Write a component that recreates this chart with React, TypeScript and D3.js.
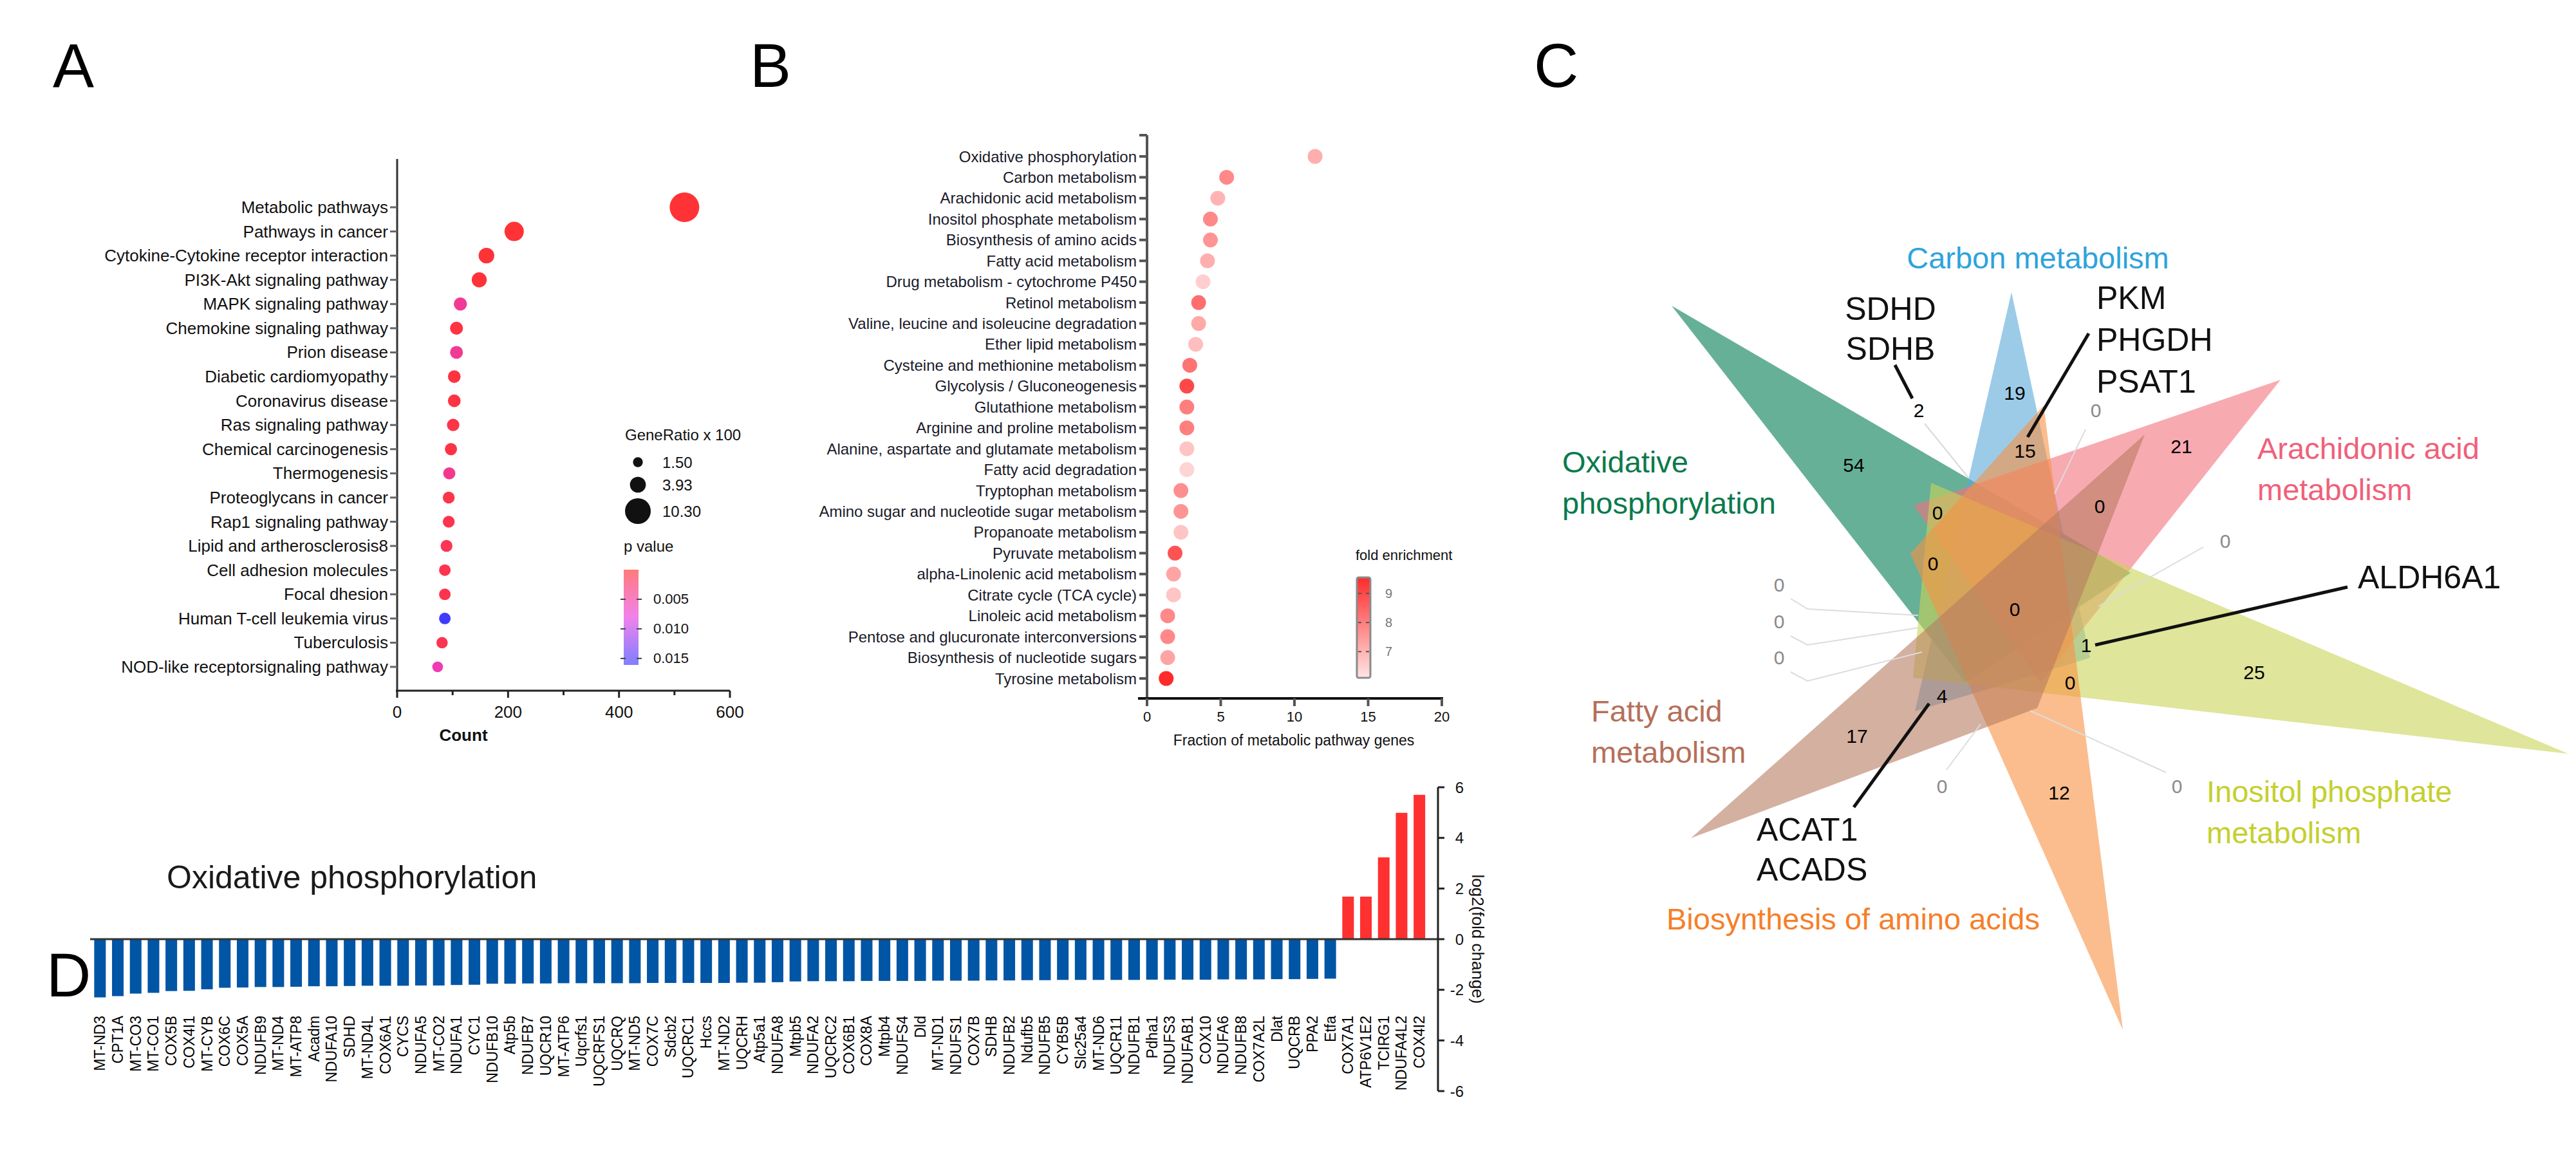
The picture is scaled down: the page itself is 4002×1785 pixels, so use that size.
import React from "react";
import * as d3 from "d3";

const W = 4002;
const H = 1785;
const FONT = "'Liberation Sans', Arial, Helvetica, sans-serif";

// ---------- A: KEGG enrichment (count / gene ratio / p value) ----------
const keggTerms = [
  "Metabolic pathways",
  "Pathways in cancer",
  "Cytokine-Cytokine receptor interaction",
  "PI3K-Akt signaling pathway",
  "MAPK signaling pathway",
  "Chemokine signaling pathway",
  "Prion disease",
  "Diabetic cardiomyopathy",
  "Coronavirus disease",
  "Ras signaling pathway",
  "Chemical carcinogenesis",
  "Thermogenesis",
  "Proteoglycans in cancer",
  "Rap1 signaling pathway",
  "Lipid and artherosclerosis8",
  "Cell adhesion molecules",
  "Focal dhesion",
  "Human T-cell leukemia virus",
  "Tuberculosis",
  "NOD-like receptorsignaling pathway",
];
const keggCount = [518, 211, 161, 148, 114, 107, 107, 103, 103, 101, 97, 94, 93, 93, 89, 86, 86, 86, 81, 73];
const keggRatio = [13.6, 5.8, 3.8, 3.5, 2.7, 2.6, 2.6, 2.5, 2.5, 2.4, 2.3, 2.3, 2.2, 2.2, 2.2, 2.1, 2.1, 2.1, 2.0, 1.8];
const keggP = [0.0001, 0.0001, 0.0002, 0.0003, 0.0045, 0.0008, 0.0045, 0.0006, 0.0007, 0.001, 0.0009, 0.0042, 0.001, 0.0012, 0.0015, 0.0012, 0.0013, 0.0158, 0.0014, 0.006];
const countTicks = [0, 200, 400, 600];
const countMinor = [100, 300, 500];
const ratioLegend = [1.5, 3.93, 10.3];
const pTicks = [0.005, 0.01, 0.015];

// ---------- B: metabolic pathways ----------
const metTerms = [
  "Oxidative phosphorylation",
  "Carbon metabolism",
  "Arachidonic acid metabolism",
  "Inositol phosphate metabolism",
  "Biosynthesis of amino acids",
  "Fatty acid metabolism",
  "Drug metabolism - cytochrome P450",
  "Retinol metabolism",
  "Valine, leucine and isoleucine degradation",
  "Ether lipid metabolism",
  "Cysteine and methionine metabolism",
  "Glycolysis / Gluconeogenesis",
  "Glutathione metabolism",
  "Arginine and proline metabolism",
  "Alanine, aspartate and glutamate metabolism",
  "Fatty acid degradation",
  "Tryptophan metabolism",
  "Amino sugar and nucleotide sugar metabolism",
  "Propanoate metabolism",
  "Pyruvate metabolism",
  "alpha-Linolenic acid metabolism",
  "Citrate cycle (TCA cycle)",
  "Linoleic acid metabolism",
  "Pentose and glucuronate interconversions",
  "Biosynthesis of nucleotide sugars",
  "Tyrosine metabolism",
];
const metFraction = [11.4, 5.4, 4.8, 4.3, 4.3, 4.1, 3.8, 3.5, 3.5, 3.3, 2.9, 2.7, 2.7, 2.7, 2.7, 2.7, 2.3, 2.3, 2.3, 1.9, 1.8, 1.8, 1.4, 1.4, 1.4, 1.3];
const metFold = [7.1, 7.8, 7.0, 7.8, 7.6, 7.1, 6.5, 8.3, 7.2, 6.8, 8.2, 9.0, 8.0, 8.0, 6.7, 6.4, 7.7, 7.6, 6.7, 8.8, 7.3, 6.7, 7.8, 7.8, 7.3, 9.6];
const fractionTicks = [0, 5, 10, 15, 20];
const foldTicks = [7, 8, 9];

// ---------- C: six-set venn ----------
const vennSets = [
  "Oxidative phosphorylation",
  "Carbon metabolism",
  "Arachidonic acid metabolism",
  "Inositol phosphate metabolism",
  "Biosynthesis of amino acids",
  "Fatty acid metabolism",
];
const vennRegionCounts = [54, 19, 21, 25, 12, 17, 2, 15, 0, 0, 0, 0, 1, 0, 4];
const vennEmptyCounts = [0, 0, 0, 0, 0, 0, 0];
const vennGenes = [["SDHD", "SDHB"], ["PKM", "PHGDH", "PSAT1"], ["ALDH6A1"], ["ACAT1", "ACADS"]];

// ---------- D: log2 fold change ----------
const oxGenes = [
  "MT-ND3", "CPT1A", "MT-CO3", "MT-CO1", "COX5B", "COX4I1", "MT-CYB", "COX6C", "COX5A", "NDUFB9",
  "MT-ND4", "MT-ATP8", "Acadm", "NDUFA10", "SDHD", "MT-ND4L", "COX6A1", "CYCS", "NDUFA5", "MT-CO2",
  "NDUFA1", "CYC1", "NDUFB10", "Atp5b", "NDUFB7", "UQCR10", "MT-ATP6", "Uqcrfs1", "UQCRFS1", "UQCRQ",
  "MT-ND5", "COX7C", "Sdcb2", "UQCRC1", "Hccs", "MT-ND2", "UQCRH", "Atp5a1", "NDUFA8", "Mtpb5",
  "NDUFA2", "UQCRC2", "COX6B1", "COX8A", "Mtpb4", "NDUFS4", "Dld", "MT-ND1", "NDUFS1", "COX7B",
  "SDHB", "NDUFB2", "Ndufb5", "NDUFB5", "CYB5B", "Slc25a4", "MT-ND6", "UQCR11", "NDUFB1", "Pdha1",
  "NDUFS3", "NDUFAB1", "COX10", "NDUFA6", "NDUFB8", "COX7A2L", "Dlat", "UQCRB", "PPA2", "Etfa",
  "COX7A1", "ATP6V1E2", "TCIRG1", "NDUFA4L2", "COX4I2",
];
const oxLogFC = [
  -2.3, -2.25, -2.15, -2.12, -2.05, -2.04, -1.98, -1.92, -1.91, -1.89,
  -1.89, -1.88, -1.86, -1.86, -1.85, -1.84, -1.84, -1.84, -1.83, -1.83,
  -1.81, -1.8, -1.76, -1.76, -1.75, -1.75, -1.74, -1.74, -1.74, -1.74,
  -1.74, -1.73, -1.73, -1.73, -1.73, -1.73, -1.72, -1.72, -1.7, -1.67,
  -1.66, -1.66, -1.66, -1.65, -1.65, -1.65, -1.65, -1.64, -1.64, -1.64,
  -1.63, -1.63, -1.62, -1.62, -1.61, -1.61, -1.61, -1.61, -1.61, -1.6,
  -1.6, -1.6, -1.6, -1.59, -1.59, -1.59, -1.58, -1.58, -1.57, -1.56,
  1.68, 1.68, 3.23, 4.99, 5.7,
];
const fcTicks = [-6, -4, -2, 0, 2, 4, 6];

function PanelA() {
  const y = d3.scalePoint<string>().domain(keggTerms).range([322, 1036]);
  const x = d3.scaleLinear().domain([0, 600]).range([617, 1134]);
  const r = d3.scaleSqrt().domain([0, 10.3]).range([0, 20]);
  const col = d3
    .scaleLinear<string>()
    .domain([0, 0.008, 0.016])
    .range(["#ff3333", "#e83fe0", "#3b3bff"])
    .clamp(true);
  const pY = d3.scaleLinear().domain([0, 0.0161]).range([885, 1033]);
  const axisY = 1073;
  return (
    <g>
      <defs>
        <linearGradient id="pgrad" x1="0" y1="0" x2="0" y2="1">
          {d3.range(0, 1.01, 0.125).map((t) => (
            <stop key={t} offset={t} stopColor={col(t * 0.0161)} stopOpacity={0.65} />
          ))}
        </linearGradient>
      </defs>
      <line x1={617} x2={617} y1={247} y2={axisY} stroke="#333" strokeWidth={3} />
      <line x1={615} x2={1134} y1={axisY} y2={axisY} stroke="#222" strokeWidth={3} />
      {countTicks.map((t) => (
        <g key={t}>
          <line x1={x(t)} x2={x(t)} y1={axisY} y2={axisY + 11} stroke="#222" strokeWidth={3} />
          <text x={x(t)} y={1106} textAnchor="middle" dominantBaseline="central" fontSize={26} fill="#111">
            {t}
          </text>
        </g>
      ))}
      {countMinor.map((t) => (
        <line key={t} x1={x(t)} x2={x(t)} y1={axisY} y2={axisY + 7} stroke="#222" strokeWidth={3} />
      ))}
      <text x={720} y={1142} textAnchor="middle" dominantBaseline="central" fontSize={26} fontWeight="bold" fill="#111">
        Count
      </text>
      {keggTerms.map((t, i) => (
        <g key={t}>
          <line x1={606} x2={617} y1={y(t)} y2={y(t)} stroke="#666" strokeWidth={3} />
          <text x={603} y={y(t)} textAnchor="end" dominantBaseline="central" fontSize={26} fill="#111">
            {t}
          </text>
          <circle cx={x(keggCount[i])} cy={y(t)} r={r(keggRatio[i])} fill={col(keggP[i])} />
        </g>
      ))}
      {/* legend */}
      <text x={971} y={675} dominantBaseline="central" fontSize={24} fill="#111">
        GeneRatio x 100
      </text>
      {ratioLegend.map((v, i) => (
        <g key={v}>
          <circle cx={991} cy={[718, 753, 794][i]} r={r(v)} fill="#111" />
          <text x={1029} y={[718, 753, 794][i]} dominantBaseline="central" fontSize={24} fill="#111">
            {v.toFixed(2)}
          </text>
        </g>
      ))}
      <text x={969} y={848} dominantBaseline="central" fontSize={24} fill="#111">
        p value
      </text>
      <rect x={969} y={885} width={23} height={148} fill="url(#pgrad)" />
      {pTicks.map((t) => (
        <g key={t}>
          <line x1={964} x2={972} y1={pY(t)} y2={pY(t)} stroke="#444" strokeWidth={2} />
          <line x1={989} x2={997} y1={pY(t)} y2={pY(t)} stroke="#444" strokeWidth={2} />
          <text x={1015} y={pY(t)} dominantBaseline="central" fontSize={22} fill="#111">
            {t.toFixed(3)}
          </text>
        </g>
      ))}
    </g>
  );
}

function PanelB() {
  const y = d3.scalePoint<string>().domain(metTerms).range([243, 1054]);
  const x = d3.scaleLinear().domain([0, 20]).range([1782, 2240]);
  const col = d3.scaleLinear<string>().domain([6.1, 9.55]).range(["#ffe4e4", "#ff2b2b"]).clamp(true);
  const fY = d3.scaleLinear().domain([6.1, 9.55]).range([1053, 897]);
  const axisY = 1085;
  return (
    <g>
      <defs>
        <linearGradient id="fgrad" x1="0" y1="1" x2="0" y2="0">
          {d3.range(0, 1.01, 0.25).map((t) => (
            <stop key={t} offset={t} stopColor={col(6.1 + t * 3.45)} />
          ))}
        </linearGradient>
      </defs>
      <line x1={1782} x2={1782} y1={210} y2={axisY} stroke="#555" strokeWidth={4} />
      <line x1={1770} x2={1782} y1={210} y2={210} stroke="#555" strokeWidth={4} />
      <line x1={1768} x2={2242} y1={axisY} y2={axisY} stroke="#111" strokeWidth={4} />
      {fractionTicks.map((t) => (
        <g key={t}>
          <line x1={x(t)} x2={x(t)} y1={axisY} y2={axisY + 12} stroke="#555" strokeWidth={4} />
          <text x={x(t)} y={1113} textAnchor="middle" dominantBaseline="central" fontSize={22} fill="#111">
            {t}
          </text>
        </g>
      ))}
      <text x={2010} y={1150} textAnchor="middle" dominantBaseline="central" fontSize={23} fill="#111">
        Fraction of metabolic pathway genes
      </text>
      {metTerms.map((t, i) => (
        <g key={t}>
          <line x1={1770} x2={1782} y1={y(t)} y2={y(t)} stroke="#555" strokeWidth={4} />
          <text x={1766} y={y(t)} textAnchor="end" dominantBaseline="central" fontSize={24} fill="#1a1a2a">
            {t}
          </text>
          <circle cx={x(metFraction[i])} cy={y(t)} r={11.5} fill={col(metFold[i])} />
        </g>
      ))}
      <text x={2106} y={862} dominantBaseline="central" fontSize={22} fill="#111">
        fold enrichment
      </text>
      <rect x={2108} y={897} width={21} height={156} rx={3} fill="url(#fgrad)" stroke="#8a8a8a" strokeWidth={3} />
      {foldTicks.map((t) => (
        <g key={t}>
          <line x1={2110} x2={2115} y1={fY(t)} y2={fY(t)} stroke="#555" strokeWidth={2} />
          <line x1={2122} x2={2127} y1={fY(t)} y2={fY(t)} stroke="#555" strokeWidth={2} />
          <text x={2152} y={fY(t)} dominantBaseline="central" fontSize={20} fill="#777">
            {t}
          </text>
        </g>
      ))}
    </g>
  );
}

// venn layout: outline of each set, and where every count sits
const vennShapes: [number, number][][] = [
  [[2597, 475], [3310, 890], [3053, 1060]],
  [[3125, 454], [2975, 1105], [3247, 1022]],
  [[3543, 590], [2973, 785], [3170, 1060]],
  [[3990, 1171], [3000, 750], [2972, 1053]],
  [[3298, 1600], [3175, 630], [2968, 860]],
  [[2627, 1302], [3332, 675], [3165, 1100]],
];
const vennFill = ["#007b53", "#5aa8d9", "#f3717d", "#cad457", "#f89143", "#b77b61"];
const vennText = ["#0b7a4c", "#2ea3dc", "#f0607a", "#c5cf2e", "#f57f29", "#b5705a"];
const vennTitlePos: { x: number; y: number; anchor: string; lines: string[] }[] = [
  { x: 2427, y: 734, anchor: "start", lines: ["Oxidative", "phosphorylation"] },
  { x: 3166, y: 417, anchor: "middle", lines: ["Carbon metabolism"] },
  { x: 3507, y: 713, anchor: "start", lines: ["Arachidonic acid", "metabolism"] },
  { x: 3428, y: 1246, anchor: "start", lines: ["Inositol phosphate", "metabolism"] },
  { x: 2589, y: 1444, anchor: "start", lines: ["Biosynthesis of amino acids"] },
  { x: 2472, y: 1121, anchor: "start", lines: ["Fatty acid", "metabolism"] },
];
const vennCountPos = [
  [2880, 722], [3130, 610], [3389, 693], [3502, 1044], [3199, 1231], [2885, 1143],
  [2981, 637], [3146, 700], [3010, 796], [3262, 786], [3003, 875], [3130, 946],
  [3241, 1002], [3216, 1060], [3017, 1081],
];
const vennEmptyPos = [[3256, 637], [3457, 840], [2764, 908], [2764, 965], [2764, 1021], [3017, 1221], [3382, 1221]];
const vennEmptyLeads = [
  [[3240, 667], [3192, 767]],
  [[3423, 850], [3260, 942]],
  [[2782, 930], [2808, 946], [2980, 956]],
  [[2782, 988], [2808, 1002], [2982, 975]],
  [[2782, 1044], [2808, 1058], [2986, 1013]],
  [[3024, 1196], [3077, 1125]],
  [[3365, 1200], [3154, 1104]],
];
const vennGeneLayout = [
  { x: 2937, y: 497, anchor: "middle", lead: [[2944, 567], [2971, 619]] },
  { x: 3257, y: 480, anchor: "start", lead: [[3245, 518], [3150, 679]] },
  { x: 3663, y: 914, anchor: "start", lead: [[3647, 912], [3255, 1002]] },
  { x: 2729, y: 1306, anchor: "start", lead: [[2880, 1254], [2997, 1093]] },
];

function PanelC() {
  const line = d3.line();
  return (
    <g>
      {vennShapes.map((pts, i) => (
        <path key={vennSets[i]} d={line(pts) + "Z"} fill={vennFill[i]} fillOpacity={0.6} />
      ))}
      <path d={line([[3058, 742], [2990, 658]]) || ""} stroke="#d8d8d8" strokeWidth={2} fill="none" />
      {vennEmptyLeads.map((pts, i) => (
        <path key={i} d={line(pts as [number, number][]) || ""} stroke="#dcdcdc" strokeWidth={2} fill="none" />
      ))}
      {vennRegionCounts.map((c, i) => (
        <text key={i} x={vennCountPos[i][0]} y={vennCountPos[i][1]} textAnchor="middle" dominantBaseline="central" fontSize={30} fill="#000">
          {c}
        </text>
      ))}
      {vennEmptyCounts.map((c, i) => (
        <text key={i} x={vennEmptyPos[i][0]} y={vennEmptyPos[i][1]} textAnchor="middle" dominantBaseline="central" fontSize={30} fill="#8a8a8a">
          {c}
        </text>
      ))}
      {vennGeneLayout.map((g, i) => (
        <g key={i}>
          <path d={line(g.lead as [number, number][]) || ""} stroke="#111" strokeWidth={5} fill="none" />
          {vennGenes[i].map((name, j) => (
            <text key={name} x={g.x} y={g.y + j * (i === 1 ? 65 : 62)} textAnchor={g.anchor} fontSize={50} fill="#111">
              {name}
            </text>
          ))}
        </g>
      ))}
      {vennTitlePos.map((t, i) => (
        <g key={i}>
          {t.lines.map((l, j) => (
            <text key={l} x={t.x} y={t.y + j * 64} textAnchor={t.anchor} fontSize={47} fill={vennText[i]}>
              {l}
            </text>
          ))}
        </g>
      ))}
    </g>
  );
}

function PanelD() {
  const x = d3.scaleBand<string>().domain(oxGenes).range([141.5, 2219]).paddingInner(0.35).paddingOuter(0.175);
  const y = d3.scaleLinear().domain([-6, 6]).range([1695, 1223]);
  const axisX = 2234;
  return (
    <g>
      <text x={259} y={1380} fontSize={50} fill="#1a1a1a">
        Oxidative phosphorylation
      </text>
      {oxGenes.map((g, i) => {
        const v = oxLogFC[i];
        return (
          <g key={g + i}>
            <rect
              x={x(g)}
              width={x.bandwidth()}
              y={v < 0 ? y(0) : y(v)}
              height={Math.abs(y(v) - y(0))}
              fill={v < 0 ? "#0055a5" : "#ff3030"}
            />
            <text
              transform={`translate(${(x(g) || 0) + x.bandwidth() / 2},1578) rotate(-90)`}
              textAnchor="end"
              dominantBaseline="central"
              fontSize={23}
              fill="#000"
            >
              {g}
            </text>
          </g>
        );
      })}
      <line x1={140} x2={axisX} y1={y(0)} y2={y(0)} stroke="#333" strokeWidth={3} />
      <line x1={axisX} x2={axisX} y1={y(6)} y2={y(-6)} stroke="#222" strokeWidth={3} />
      {fcTicks.map((t) => (
        <g key={t}>
          <line x1={axisX} x2={axisX + 10} y1={y(t)} y2={y(t)} stroke="#222" strokeWidth={3} />
          <text x={axisX + 40} y={y(t)} textAnchor="end" dominantBaseline="central" fontSize={24} fill="#111">
            {t}
          </text>
        </g>
      ))}
      <text
        transform={`translate(${axisX + 62},${y(0)}) rotate(90)`}
        textAnchor="middle"
        dominantBaseline="central"
        fontSize={26}
        fill="#111"
      >
        log2(fold change)
      </text>
    </g>
  );
}

export default function App() {
  return (
    <svg
      width={W}
      height={H}
      viewBox={`0 0 ${W} ${H}`}
      style={{ position: "absolute", left: 0, top: 0 }}
      fontFamily={FONT}
    >
      <rect width={W} height={H} fill="#fff" />
      <PanelA />
      <PanelB />
      <PanelC />
      <PanelD />
      {[
        ["A", 82, 135],
        ["B", 1165, 135],
        ["C", 2383, 135],
        ["D", 72, 1548],
      ].map(([l, lx, ly]) => (
        <text key={l as string} x={lx as number} y={ly as number} fontSize={96} fill="#000">
          {l}
        </text>
      ))}
    </svg>
  );
}
